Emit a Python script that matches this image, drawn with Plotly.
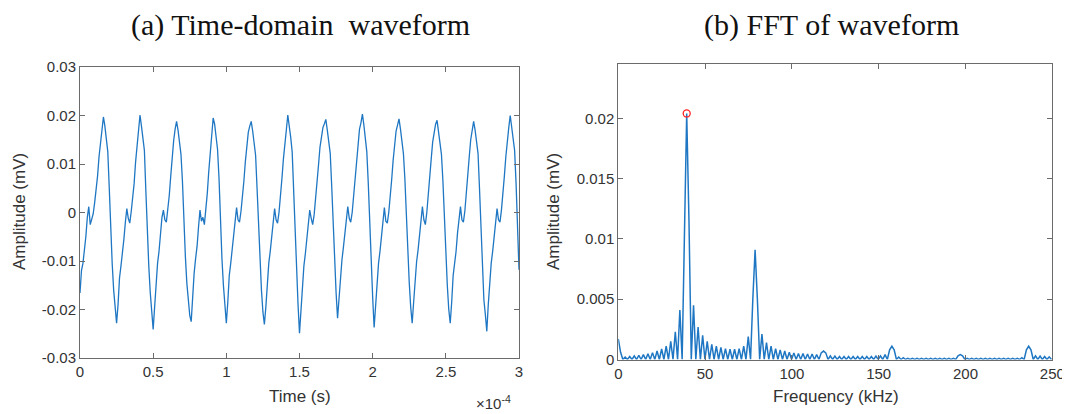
import numpy as np
import plotly.graph_objects as go

# ---------------- data ----------------
# (a) time-domain waveform, sampled every 1 microsecond (0 ... 300 us), amplitude in mV
TIME_STEP_S = 1e-6
wave_mv = [
    -0.0166, -0.012, -0.0105, -0.008, -0.005, -0.001, 0.0012, -0.0025, -0.0015, -0.0003,
    0.002, 0.0045, 0.0075, 0.0115, 0.0145, 0.0162, 0.0197, 0.0178, 0.0155, 0.0125,
    0.005, -0.004, -0.0105, -0.016, -0.0205, -0.0228, -0.019, -0.0135, -0.011, -0.0085,
    -0.0055, -0.002, 0.0008, -0.0012, -0.0022, 0.0002, 0.003, 0.006, 0.0105, 0.0142,
    0.0168, 0.0201, 0.0178, 0.0152, 0.0128, 0.0045, -0.0045, -0.011, -0.0165, -0.021,
    -0.0241, -0.0195, -0.014, -0.0105, -0.008, -0.0045, -0.001, 0.0005, -0.0015, -0.002,
    0.0005, 0.0035, 0.0075, 0.0115, 0.0148, 0.0172, 0.0188, 0.017, 0.015, 0.012,
    0.0065, -0.002, -0.009, -0.0145, -0.019, -0.0212, -0.0225, -0.017, -0.0125, -0.0095,
    -0.007, -0.003, 0.0005, -0.0018, -0.001, -0.0025, 0.0005, 0.004, 0.0085, 0.0125,
    0.0158, 0.0195, 0.0182, 0.0158, 0.013, 0.007, -0.002, -0.0095, -0.015, -0.0198,
    -0.0228, -0.0185, -0.013, -0.0105, -0.0075, -0.004, -0.0005, 0.001, -0.0015, -0.002,
    0.0002, 0.003, 0.0065, 0.0105, 0.014, 0.0165, 0.0178, 0.0188, 0.0168, 0.0145,
    0.0118, 0.005, -0.003, -0.0105, -0.016, -0.0205, -0.0231, -0.0195, -0.0135, -0.0105,
    -0.008, -0.0045, -0.001, 0.0008, -0.0015, -0.0022, 0.0, 0.003, 0.007, 0.011,
    0.0148, 0.017, 0.0201, 0.018, 0.0155, 0.0125, 0.004, -0.005, -0.013, -0.019,
    -0.0249, -0.02, -0.0145, -0.011, -0.0085, -0.005, -0.0015, 0.0005, -0.0012, -0.0025,
    -0.0005, 0.0025, 0.006, 0.0098, 0.0135, 0.016, 0.0175, 0.0183, 0.0192, 0.017,
    0.0148, 0.0122, 0.0055, -0.003, -0.0105, -0.0165, -0.0218, -0.018, -0.0125, -0.0098,
    -0.0072, -0.004, -0.0005, 0.0012, -0.0012, -0.002, 0.0, 0.0035, 0.0075, 0.0112,
    0.0148, 0.0172, 0.0185, 0.0203, 0.018, 0.0155, 0.0125, 0.006, -0.003, -0.011,
    -0.0175, -0.0237, -0.0195, -0.014, -0.0105, -0.008, -0.0045, -0.001, 0.001, -0.0018,
    -0.0022, 0.0, 0.003, 0.0068, 0.0108, 0.0145, 0.0168, 0.018, 0.0193, 0.0172,
    0.015, 0.0122, 0.007, -0.001, -0.0085, -0.0145, -0.0195, -0.0228, -0.0185, -0.013,
    -0.0102, -0.0078, -0.0042, -0.0008, 0.0012, -0.0015, -0.0025, 0.0, 0.0032, 0.007,
    0.011, 0.0145, 0.0168, 0.0182, 0.019, 0.0168, 0.0145, 0.012, 0.0065, -0.002,
    -0.0095, -0.015, -0.02, -0.0228, -0.0185, -0.013, -0.0105, -0.008, -0.0042, -0.0008,
    0.0012, -0.0015, -0.002, 0.0003, 0.0035, 0.0075, 0.0115, 0.015, 0.0172, 0.0188,
    0.017, 0.0148, 0.0122, 0.005, -0.004, -0.0115, -0.018, -0.021, -0.0245, -0.019,
    -0.0135, -0.0105, -0.008, -0.0045, -0.001, 0.0008, -0.0015, -0.002, 0.0005, 0.0035,
    0.0075, 0.0115, 0.0152, 0.0175, 0.02, 0.0178, 0.0155, 0.0128, 0.006, -0.003,
    -0.0118,
]

# (b) FFT: fundamental frequency and spectrum values
F0_KHZ = 39.4
PEAK_MV = 0.0204
BINS_PER_HARMONIC = 15
# amplitude at the bin frequencies (k * bin width), k = 0..95
fft_bin_mv = [
    0.0017, 0, 0, 0, 0, 0, 0, 0, 0, 0, 0, 0, 0, 0, 0,
    0.0204, 0, 0, 0, 0, 0, 0, 0, 0, 0, 0, 0, 0, 0, 0,
    0.0091, 0, 0, 0, 0, 0, 0, 0, 0, 0, 0, 0, 0, 0, 0,
    0.0007, 0, 0, 0, 0, 0, 0, 0, 0, 0, 0, 0, 0, 0, 0,
    0.0011, 0, 0, 0, 0, 0, 0, 0, 0, 0, 0, 0, 0, 0, 0,
    0.0004, 0, 0, 0, 0, 0, 0, 0, 0, 0, 0, 0, 0, 0, 0,
    0.0011, 0, 0, 0, 0, 0,
]
# amplitude half-way between bins ((k + 0.5) * bin width), k = 0..94
fft_mid_mv = [
    0.0006, 0.0002, 0.00025, 0.0003, 0.00034, 0.0004, 0.00048, 0.00057, 0.0007, 0.00087,
    0.0011, 0.0015, 0.0023, 0.0041, 0.011,
    0.0115, 0.0045, 0.0027, 0.002, 0.0015, 0.00125, 0.0011, 0.001, 0.0009, 0.00085,
    0.00085, 0.0009, 0.0011, 0.0019, 0.005,
    0.005, 0.0021, 0.0014, 0.0011, 0.0009, 0.0008, 0.0007, 0.0006, 0.00055, 0.0005,
    0.0005, 0.00045, 0.00045, 0.0004, 0.00055,
    0.00055, 0.0003, 0.00028, 0.00025, 0.00025, 0.00025, 0.00025, 0.00025, 0.00025, 0.00025,
    0.00025, 0.00028, 0.0003, 0.0004, 0.0008,
    0.0008, 0.0002, 0.00015, 0.0001, 0.0001, 0.0001, 0.0001, 0.0001, 0.0001, 0.0001,
    0.0001, 0.0001, 0.0001, 0.0001, 0.0003,
    0.0003, 0.0001, 0.0001, 0.0001, 0.0001, 0.0001, 0.0001, 0.0001, 0.0001, 0.0001,
    0.0001, 0.0001, 0.0001, 0.00015, 0.0008,
    0.0008, 0.0003, 0.00028, 0.00025, 0.00022,
]

# tick labels
left_x_ticks = [0, 0.5, 1, 1.5, 2, 2.5, 3]
left_x_text = ["0", "0.5", "1", "1.5", "2", "2.5", "3"]
left_y_ticks = [-0.03, -0.02, -0.01, 0, 0.01, 0.02, 0.03]
left_y_text = ["-0.03", "-0.02", "-0.01", "0", "0.01", "0.02", "0.03"]
right_x_ticks = [0, 50, 100, 150, 200, 250]
right_x_text = ["0", "50", "100", "150", "200", "250"]
right_y_ticks = [0, 0.005, 0.01, 0.015, 0.02]
right_y_text = ["0", "0.005", "0.01", "0.015", "0.02"]

# ---------------- build series ----------------
t_s = np.arange(len(wave_mv)) * TIME_STEP_S
t_scaled = t_s / 1e-4  # axis shows x 10^-4

bin_khz = F0_KHZ / BINS_PER_HARMONIC
freq = []
amp = []
for k, v in enumerate(fft_bin_mv):
    freq.append(k * bin_khz)
    amp.append(v)
    if k < len(fft_mid_mv):
        freq.append((k + 0.5) * bin_khz)
        amp.append(fft_mid_mv[k])

# ---------------- figure ----------------
W, H = 1070, 414
PAGE_OFFSET = 8  # the page body adds an 8 px margin around the figure
BLUE = "#1f77c4"
AXC = "#6b6b6b"
TICKFONT = dict(family="Liberation Sans, Arial, sans-serif", size=15, color="#333333")
LABELFONT = dict(family="Liberation Sans, Arial, sans-serif", size=17, color="#333333")
TITLEFONT = dict(family="Liberation Serif, Times New Roman, serif", size=30, color="#111111")

def px_x(x):
    return (x - PAGE_OFFSET) / W

def px_y(y):
    return 1 - (y - PAGE_OFFSET) / H

fig = go.Figure()
fig.add_trace(go.Scatter(x=t_scaled, y=wave_mv, mode="lines",
                         line=dict(color=BLUE, width=1.3), xaxis="x", yaxis="y",
                         showlegend=False, hoverinfo="skip"))
fig.add_trace(go.Scatter(x=freq, y=amp, mode="lines",
                         line=dict(color=BLUE, width=1.5), xaxis="x2", yaxis="y2",
                         showlegend=False, hoverinfo="skip"))
fig.add_trace(go.Scatter(x=[F0_KHZ], y=[PEAK_MV], mode="markers",
                         marker=dict(symbol="circle-open", color="#ff2020", size=7,
                                     line=dict(width=1.3, color="#ff2020")),
                         xaxis="x2", yaxis="y2", showlegend=False, hoverinfo="skip"))

ax = dict(showline=True, linecolor=AXC, linewidth=1, mirror="ticks", ticks="inside",
          ticklen=5, tickcolor=AXC, tickwidth=1, showgrid=False, zeroline=False,
          tickfont=TICKFONT, fixedrange=True, automargin=False)

fig.update_layout(
    width=W, height=H,
    margin=dict(l=0, r=0, t=0, b=0, pad=0, autoexpand=False),
    paper_bgcolor="white", plot_bgcolor="white",
    xaxis=dict(ax, domain=[px_x(80), px_x(519)], range=[0, 3],
               tickvals=left_x_ticks, ticktext=left_x_text, anchor="y"),
    yaxis=dict(ax, domain=[px_y(358), px_y(67)], range=[-0.03, 0.03],
               tickvals=left_y_ticks, ticktext=left_y_text, anchor="x"),
    xaxis2=dict(ax, domain=[px_x(618.3), px_x(1052.3)], range=[0, 250],
                tickvals=right_x_ticks, ticktext=right_x_text, anchor="y2"),
    yaxis2=dict(ax, domain=[px_y(359.5), px_y(64)], range=[0, 0.0245],
                tickvals=right_y_ticks, ticktext=right_y_text, anchor="x2"),
)

annos = [
    dict(text="(a) Time-domain  waveform", x=px_x(300), y=px_y(25), font=TITLEFONT),
    dict(text="(b) FFT of waveform", x=px_x(831), y=px_y(25), font=TITLEFONT),
    dict(text="Time (s)", x=px_x(299.5), y=px_y(396), font=LABELFONT),
    dict(text="Frequency (kHz)", x=px_x(836), y=px_y(396), font=LABELFONT),
    dict(text="Amplitude (mV)", x=px_x(19), y=px_y(212), font=LABELFONT, textangle=-90),
    dict(text="Amplitude (mV)", x=px_x(553), y=px_y(212), font=LABELFONT, textangle=-90),
    dict(text="\u00d710<sup>-4</sup>", x=px_x(493), y=px_y(402), font=dict(TICKFONT, size=15)),
]
for a in annos:
    fig.add_annotation(xref="paper", yref="paper", showarrow=False,
                       xanchor="center", yanchor="middle", **a)

fig.write_html("out.html")
